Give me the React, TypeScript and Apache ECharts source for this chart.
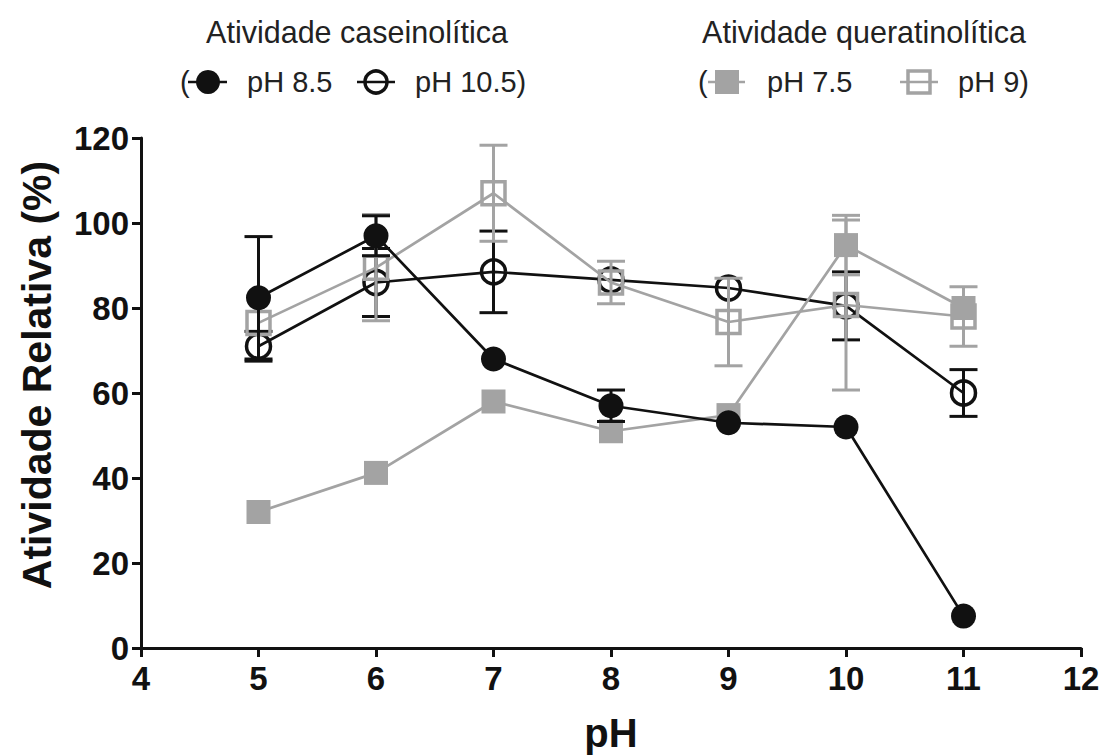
import React, { useEffect, useRef } from "react";
import * as echarts from "echarts";

const phValues = [5, 6, 7, 8, 9, 10, 11];
const cas85Mean = [82.4, 97, 68, 57, 53, 52, 7.5];
const cas85Err = [14.4, 4.7, 0, 3.7, 0, 0, 0];
const cas105Mean = [71, 86, 88.5, 86.6, 84.7, 80.5, 60];
const cas105Err = [3.5, 8, 9.6, 0, 0, 8, 5.5];
const ker75Mean = [32, 41.2, 58, 51, 54.8, 94.8, 80];
const ker75Err = [0, 0, 0, 0, 0, 7, 0];
const ker9Mean = [76.5, 89.5, 107, 86, 76.7, 80.7, 78];
const ker9Err = [0, 12.5, 11.3, 5, 10.3, 20, 7];

const xTicks = { min: 4, max: 12, interval: 1 };
const yTicks = { min: 0, max: 120, interval: 20 };

const BLACK = "#111111";
const GREY = "#a3a3a3";
const FONT = "'Liberation Sans', Arial, sans-serif";

function errSeries(mean: number[], err: number[], color: string, z: number) {
  return {
    type: "custom",
    z,
    silent: true,
    data: phValues.map((x, i) => [x, mean[i] - err[i], mean[i] + err[i], err[i]]),
    renderItem: (params: any, api: any) => {
      if (api.value(3) <= 0) return null;
      const x = api.value(0);
      const pLo = api.coord([x, api.value(1)]);
      const pHi = api.coord([x, api.value(2)]);
      const w = 14;
      const style = { stroke: color, lineWidth: 3, fill: "none" };
      return {
        type: "group",
        children: [
          { type: "line", shape: { x1: pLo[0], y1: pLo[1], x2: pHi[0], y2: pHi[1] }, style },
          { type: "line", shape: { x1: pHi[0] - w, y1: pHi[1], x2: pHi[0] + w, y2: pHi[1] }, style },
          { type: "line", shape: { x1: pLo[0] - w, y1: pLo[1], x2: pLo[0] + w, y2: pLo[1] }, style },
        ],
      };
    },
  };
}

function lineSeries(name: string, mean: number[], color: string, symbol: string, filled: boolean, size: number, z: number) {
  return {
    type: "line",
    name,
    z,
    data: phValues.map((x, i) => [x, mean[i]]),
    symbol,
    symbolSize: size,
    showAllSymbol: true,
    lineStyle: { color, width: 2.7 },
    itemStyle: filled
      ? { color, borderColor: color, borderWidth: 0 }
      : { color: "rgba(0,0,0,0)", borderColor: color, borderWidth: 3.5 },
    emphasis: { disabled: true },
  };
}

export default function App() {
  const ref = useRef<HTMLDivElement>(null);
  useEffect(() => {
    if (!ref.current) return;
    const chart = echarts.init(ref.current, undefined, { renderer: "svg" });
    const legendY = 82;
    const legendText = (text: string, x: number, y: number, align = "left", size = 29) => ({
      type: "text",
      x,
      y,
      style: { text, fill: "#222", font: `${size}px ${FONT}`, align, verticalAlign: "middle" },
    });
    chart.setOption({
      animation: false,
      backgroundColor: "#ffffff",
      grid: { left: 141, right: 29, top: 138, bottom: 107, containLabel: false, outerBoundsMode: "none" },
      xAxis: {
        type: "value",
        min: xTicks.min,
        max: xTicks.max,
        interval: xTicks.interval,
        name: "pH",
        nameLocation: "middle",
        nameGap: 65,
        nameTextStyle: { fontFamily: FONT, fontWeight: "bold", fontSize: 40, color: BLACK },
        axisLine: { show: true, lineStyle: { color: BLACK, width: 3 } },
        axisTick: { show: true, length: 9, lineStyle: { color: BLACK, width: 3 } },
        axisLabel: { fontFamily: FONT, fontWeight: "bold", fontSize: 33, color: BLACK, margin: 14 },
        splitLine: { show: false },
      },
      yAxis: {
        type: "value",
        min: yTicks.min,
        max: yTicks.max,
        interval: yTicks.interval,
        name: "Atividade Relativa (%)",
        nameLocation: "middle",
        nameGap: 84,
        nameTextStyle: { fontFamily: FONT, fontWeight: "bold", fontSize: 41, color: BLACK, padding: [0, 0, 0, 36] },
        axisLine: { show: true, lineStyle: { color: BLACK, width: 3 } },
        axisTick: { show: true, length: 9, lineStyle: { color: BLACK, width: 3 } },
        axisLabel: { fontFamily: FONT, fontWeight: "bold", fontSize: 33, color: BLACK, margin: 12 },
        splitLine: { show: false },
      },
      series: [
        errSeries(cas105Mean, cas105Err, BLACK, 2),
        lineSeries("pH 10.5", cas105Mean, BLACK, "circle", false, 24, 3),
        errSeries(ker9Mean, ker9Err, GREY, 4),
        lineSeries("pH 9", ker9Mean, GREY, "rect", false, 23, 5),
        errSeries(ker75Mean, ker75Err, GREY, 6),
        lineSeries("pH 7.5", ker75Mean, GREY, "rect", true, 24, 7),
        errSeries(cas85Mean, cas85Err, BLACK, 8),
        lineSeries("pH 8.5", cas85Mean, BLACK, "circle", true, 25, 9),
      ],
      graphic: [
        legendText("Atividade caseinolítica", 357, 32, "center", 30.5),
        legendText("Atividade queratinolítica", 864, 32, "center", 30.5),
        legendText("(", 180, legendY),
        { type: "line", shape: { x1: 188, y1: legendY, x2: 227, y2: legendY }, style: { stroke: BLACK, lineWidth: 2.5 } },
        { type: "circle", shape: { cx: 208, cy: legendY, r: 12 }, style: { fill: BLACK } },
        legendText("pH 8.5", 247, legendY),
        { type: "line", shape: { x1: 357, y1: legendY, x2: 395, y2: legendY }, style: { stroke: BLACK, lineWidth: 2.5 } },
        { type: "circle", shape: { cx: 376, cy: legendY, r: 11 }, style: { fill: "none", stroke: BLACK, lineWidth: 3.5 } },
        legendText("pH 10.5)", 415, legendY),
        legendText("(", 698, legendY),
        { type: "line", shape: { x1: 708, y1: legendY, x2: 745, y2: legendY }, style: { stroke: GREY, lineWidth: 2.5 } },
        { type: "rect", shape: { x: 715, y: legendY - 12, width: 24, height: 24 }, style: { fill: GREY } },
        legendText("pH 7.5", 767, legendY),
        { type: "line", shape: { x1: 900, y1: legendY, x2: 938, y2: legendY }, style: { stroke: GREY, lineWidth: 2.5 } },
        { type: "rect", shape: { x: 908, y: legendY - 11, width: 22, height: 22 }, style: { fill: "none", stroke: GREY, lineWidth: 3.5 } },
        legendText("pH 9)", 958, legendY),
      ],
    });
    return () => chart.dispose();
  }, []);
  return (
    <div
      ref={ref}
      style={{ position: "fixed", left: 0, top: 0, width: 1110, height: 755, background: "#fff" }}
    />
  );
}
